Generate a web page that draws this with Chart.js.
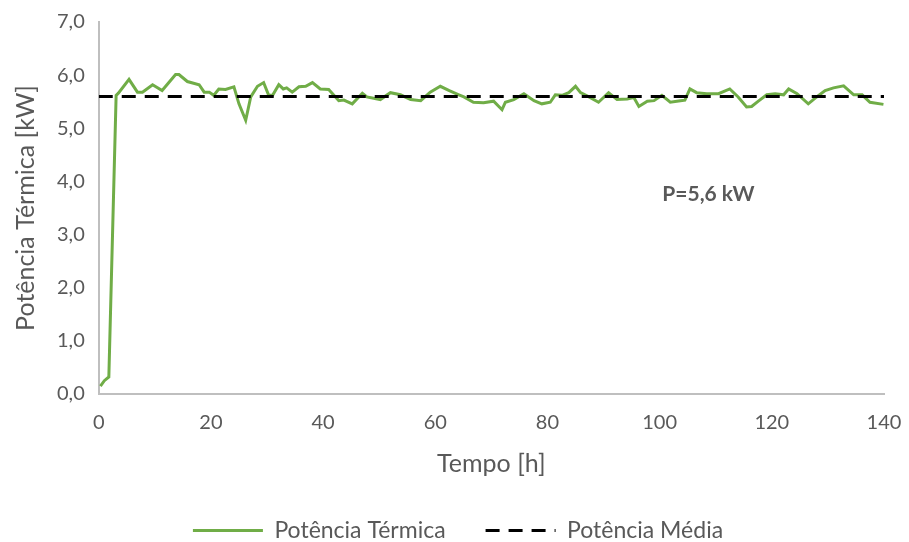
<!DOCTYPE html>
<html>
<head>
<meta charset="utf-8">
<script src="https://cdn.jsdelivr.net/npm/chart.js@4.4.0/dist/chart.umd.min.js"></script>
<style>
  html, body { margin: 0; padding: 0; background: #fff; }
  #wrap { width: 909px; height: 542px; }
</style>
</head>
<body>
<div id="wrap"><canvas id="grafico" width="909" height="542"></canvas></div>
<script>
// tempo [h] e potência térmica [kW]
var tempoHoras = [0.3, 1.0, 1.8, 3.1, 3.5, 5.4, 6.9, 7.8, 9.6, 11.3, 13.7, 14.3, 15.8, 17.9, 18.8, 19.7,
    20.5, 21.4, 22.6, 24.1, 25.0, 26.2, 27.1, 28.3, 29.4, 30.3, 31.0, 32.1, 32.9, 33.5, 34.5, 35.7,
    36.9, 38.1, 39.5, 41.0, 42.8, 43.7, 45.2, 47.0, 47.8, 50.2, 52.0, 53.8, 55.6, 57.4, 59.1, 60.9,
    62.5, 64.2, 65.1, 66.8, 68.6, 70.4, 71.9, 72.5, 74.0, 75.8, 77.6, 79.0, 80.5, 81.4, 82.6, 83.8,
    85.0, 85.9, 87.4, 89.1, 90.9, 92.4, 94.2, 95.4, 96.3, 97.8, 99.0, 100.4, 101.9, 103.7, 104.5,
    105.4, 106.6, 108.4, 110.5, 112.5, 114.0, 115.5, 116.4, 117.6, 119.1, 120.6, 122.1, 123.0,
    124.5, 126.5, 128.0, 129.5, 131.0, 132.8, 134.6, 136.1, 137.5, 139.9];
var potenciaTermica = [0.15, 0.25, 0.32, 5.62, 5.66, 5.92, 5.68, 5.68, 5.82, 5.71, 6.01, 6.01, 5.88, 5.82, 5.68, 5.68,
    5.62, 5.74, 5.73, 5.78, 5.46, 5.15, 5.59, 5.79, 5.86, 5.62, 5.62, 5.82, 5.74, 5.76, 5.68, 5.78,
    5.79, 5.86, 5.74, 5.73, 5.52, 5.53, 5.46, 5.66, 5.59, 5.54, 5.67, 5.63, 5.54, 5.52, 5.68, 5.79,
    5.71, 5.63, 5.59, 5.49, 5.48, 5.51, 5.35, 5.49, 5.54, 5.65, 5.52, 5.46, 5.49, 5.63, 5.62, 5.67,
    5.79, 5.67, 5.59, 5.49, 5.67, 5.54, 5.55, 5.58, 5.41, 5.51, 5.52, 5.62, 5.49, 5.52, 5.53,
    5.74, 5.67, 5.65, 5.65, 5.74, 5.59, 5.40, 5.41, 5.51, 5.63, 5.65, 5.63, 5.74,
    5.65, 5.46, 5.59, 5.71, 5.76, 5.80, 5.63, 5.63, 5.49, 5.45];
var potenciaMedia = 5.6;
var tempoMedia = [0, 140];
var xTicks = [0, 20, 40, 60, 80, 100, 120, 140];
var yTicks = [0, 1, 2, 3, 4, 5, 6, 7];
var anotacao = { texto: 'P=5,6 kW', x: 108.7, y: 3.76 };

var corTexto = '#595959';
var fonte = 'Lato, "Open Sans", sans-serif';

function virgula(v) {
    return v.toFixed(1).replace('.', ',');
}

var pontosTermica = tempoHoras.map(function(t, i) { return { x: t, y: potenciaTermica[i] }; });
var pontosMedia = tempoMedia.map(function(t) { return { x: t, y: potenciaMedia }; });

// texto "P=5,6 kW" posicionado pelas escalas
var pluginAnotacao = {
    id: 'anotacao',
    afterDatasetsDraw: function(chart) {
        var ctx = chart.ctx;
        var px = chart.scales.x.getPixelForValue(anotacao.x);
        var py = chart.scales.y.getPixelForValue(anotacao.y);
        ctx.save();
        ctx.font = 'bold 21px ' + fonte;
        ctx.fillStyle = corTexto;
        ctx.textAlign = 'center';
        ctx.textBaseline = 'middle';
        ctx.fillText(anotacao.texto, px, py);
        ctx.restore();
    }
};

var ctx = document.getElementById('grafico').getContext('2d');
var grafico = new Chart(ctx, {
    type: 'line',
    data: {
        datasets: [{
            label: 'Potência Térmica',
            data: pontosTermica,
            borderColor: '#70ad47',
            backgroundColor: '#70ad47',
            borderWidth: 3,
            pointRadius: 0,
            tension: 0,
            order: 1
        }, {
            label: 'Potência Média',
            data: pontosMedia,
            borderColor: '#000000',
            backgroundColor: '#000000',
            borderWidth: 3,
            borderDash: [14, 9],
            pointRadius: 0,
            order: 0
        }]
    },
    options: {
        responsive: false,
        animation: false,
        layout: { padding: { left: 7, right: 0, top: 0, bottom: -10 } },
        plugins: {
            tooltip: { enabled: false },
            legend: {
                position: 'bottom',
                labels: {
                    usePointStyle: true,
                    pointStyle: 'line',
                    pointStyleWidth: 70,
                    color: corTexto,
                    font: { family: fonte, size: 23 },
                    padding: 40,
                    sort: function(a, b) { return a.datasetIndex - b.datasetIndex; },
                    generateLabels: function(chart) {
                        var itens = Chart.defaults.plugins.legend.labels.generateLabels(chart);
                        itens.forEach(function(it) {
                            var ds = chart.data.datasets[it.datasetIndex];
                            it.lineDash = ds.borderDash || [];
                            it.strokeStyle = ds.borderColor;
                            it.lineWidth = ds.borderWidth;
                        });
                        return itens;
                    }
                }
            }
        },
        scales: {
            x: {
                type: 'linear',
                min: 0,
                max: 140,
                afterBuildTicks: function(axis) { axis.ticks = xTicks.map(function(v) { return { value: v }; }); },
                afterFit: function(axis) { axis.paddingRight = 25; },
                grid: { display: false, drawTicks: false },
                border: { display: true, color: '#bfbfbf', width: 2 },
                ticks: { color: corTexto, font: { family: fonte, size: 20 }, padding: 17 },
                title: { display: true, text: 'Tempo [h]', color: corTexto, font: { family: fonte, size: 25 }, padding: { top: -3, bottom: 0 } }
            },
            y: {
                min: 0,
                max: 7,
                afterBuildTicks: function(axis) { axis.ticks = yTicks.map(function(v) { return { value: v }; }); },
                afterFit: function(axis) { axis.paddingTop = 22; },
                grid: { display: false, drawTicks: false },
                border: { display: true, color: '#bfbfbf', width: 2 },
                ticks: { color: corTexto, font: { family: fonte, size: 20 }, padding: 14, callback: function(v) { return virgula(v); } },
                title: { display: true, text: 'Potência Térmica [kW]', color: corTexto, font: { family: fonte, size: 25 }, padding: { bottom: 2 } }
            }
        }
    },
    plugins: [pluginAnotacao]
});
</script>
</body>
</html>
